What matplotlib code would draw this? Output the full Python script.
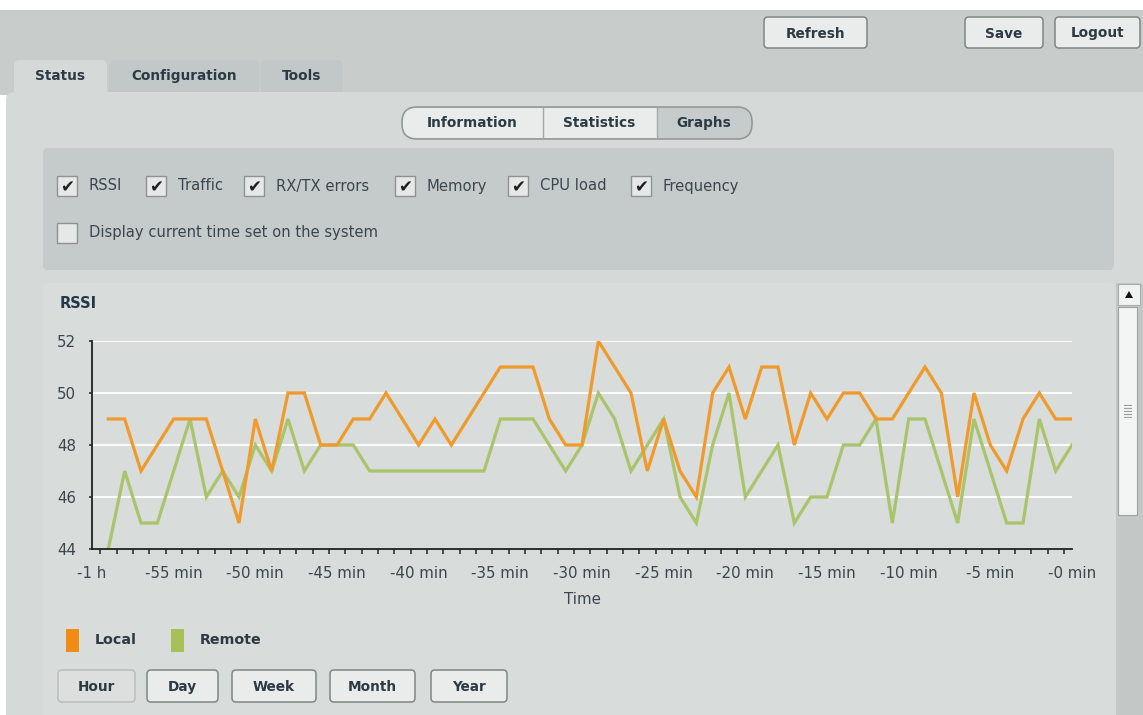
import matplotlib.pyplot as plt
from matplotlib.patches import FancyBboxPatch, Rectangle, Polygon

# RSSI samples, one per minute (-59 min .. 0 min)
minutes = list(range(-59, 1))
local_rssi = [49, 49, 47, 48, 49, 49, 49, 47, 45, 49,
              47, 50, 50, 48, 48, 49, 49, 50, 49, 48,
              49, 48, 49, 50, 51, 51, 51, 49, 48, 48,
              52, 51, 50, 47, 49, 47, 46, 50, 51, 49,
              51, 51, 48, 50, 49, 50, 50, 49, 49, 50,
              51, 50, 46, 50, 48, 47, 49, 50, 49, 49]
remote_rssi = [44, 47, 45, 45, 47, 49, 46, 47, 46, 48,
               47, 49, 47, 48, 48, 48, 47, 47, 47, 47,
               47, 47, 47, 47, 49, 49, 49, 48, 47, 48,
               50, 49, 47, 48, 49, 46, 45, 48, 50, 46,
               47, 48, 45, 46, 46, 48, 48, 49, 45, 49,
               49, 47, 45, 49, 47, 45, 45, 49, 47, 48]

x_major = [-60, -55, -50, -45, -40, -35, -30, -25, -20, -15, -10, -5, 0]
x_labels = ["-1 h", "-55 min", "-50 min", "-45 min", "-40 min", "-35 min",
            "-30 min", "-25 min", "-20 min", "-15 min", "-10 min", "-5 min", "-0 min"]
y_ticks = [44, 46, 48, 50, 52]

series_names = ["Local", "Remote"]
checkbox_labels = ["RSSI", "Traffic", "RX/TX errors", "Memory", "CPU load", "Frequency"]
range_buttons = ["Hour", "Day", "Week", "Month", "Year"]
sub_tabs = ["Information", "Statistics", "Graphs"]
main_tabs = ["Status", "Configuration", "Tools"]

TXT = "#2c3a44"
ORANGE = "#f09a2c"
GREEN = "#a9c46a"

W, H = 1143, 715
fig = plt.figure(figsize=(W / 100, H / 100), dpi=100)
fig.patch.set_facecolor("white")

# background layer in pixel coordinates
bg = fig.add_axes([0, 0, 1, 1])
bg.set_xlim(0, W)
bg.set_ylim(H, 0)
bg.axis("off")


def rbox(x0, y0, x1, y1, face, edge="none", r=4, lw=1.0, z=1):
    p = FancyBboxPatch((x0, y0), x1 - x0, y1 - y0,
                       boxstyle=f"round,pad=0,rounding_size={r}",
                       fc=face, ec=edge, lw=lw, zorder=z)
    bg.add_patch(p)


def button(x0, y0, x1, y1, label, face="#e9eceb", edge="#7f8686"):
    rbox(x0, y0, x1, y1, face, edge, r=4, lw=1.1, z=3)
    bg.text((x0 + x1) / 2, (y0 + y1) / 2 + 1, label, ha="center", va="center",
            fontsize=9.8, fontweight="bold", color=TXT, zorder=4)


def checkbox(x, y, checked):
    bg.add_patch(Rectangle((x, y - 10), 20, 20, fc="#e6e8e7", ec="#8d9393", lw=1.0, zorder=3))
    if checked:
        bg.text(x + 10, y + 1, "\u2714", ha="center", va="center",
                fontsize=12, color="#1b1f22", zorder=4)


# top strip and main panel
bg.add_patch(Rectangle((0, 10), W, 85, fc="#c8cdcb", ec="none", zorder=0))
rbox(6, 92, W + 20, H + 20, "#d5dad9", r=8, z=1)

# main tabs
tab_spans = [(14, 107), (109, 259), (261, 343)]
for (x0, x1), name in zip(tab_spans, main_tabs):
    face = "#d5dad9" if name == "Status" else "#c2c8c7"
    rbox(x0, 60, x1, 104, face, r=6, z=2 if name == "Status" else 0.5)
    bg.text((x0 + x1) / 2, 76, name, ha="center", va="center",
            fontsize=9.8, fontweight="bold", color=TXT, zorder=4)

# top buttons
button(764, 17, 867, 48, "Refresh")
button(965, 17, 1043, 48, "Save")
button(1055, 17, 1140, 48, "Logout")

# segmented control
rbox(402, 107, 752, 139, "#c6cccb", "#8e9595", r=15, lw=1.1, z=3)
rbox(403, 108, 560, 138, "#e9eceb", "none", r=14, z=3)
bg.add_patch(Rectangle((530, 108), 127, 30, fc="#e9eceb", ec="none", zorder=3))
bg.plot([543, 543], [108, 138], color="#a3a9a9", lw=1, zorder=4)
bg.plot([657, 657], [108, 138], color="#a3a9a9", lw=1, zorder=4)
for cx, name in zip([472, 599, 704], sub_tabs):
    bg.text(cx, 123, name, ha="center", va="center",
            fontsize=9.8, fontweight="bold", color=TXT, zorder=5)

# checkbox panel
rbox(43, 148, 1114, 270, "#c5cbca", r=5, z=2)
box_x = [57, 146, 244, 395, 508, 631]
for bx, name in zip(box_x, checkbox_labels):
    checkbox(bx, 186, True)
    bg.text(bx + 32, 186, name, ha="left", va="center", fontsize=10.6, color="#3a454d", zorder=4)
checkbox(57, 233, False)
bg.text(89, 233, "Display current time set on the system", ha="left", va="center",
        fontsize=10.6, color="#3a454d", zorder=4)

# graph panel
rbox(42, 283, 1116, H + 20, "#d8dcdb", r=5, z=2)
bg.text(60, 304, "RSSI", ha="left", va="center", fontsize=10.5,
        fontweight="bold", color="#22384a", zorder=4)

# scrollbar
bg.add_patch(Rectangle((1116, 283), 27, H - 283, fc="#c3c8c7", ec="none", zorder=2))
bg.add_patch(Rectangle((1118, 284), 22, 21, fc="#f1f2f2", ec="#a9aeae", lw=0.8, zorder=3))
bg.add_patch(Polygon([[1125, 298], [1133, 298], [1129, 291]], closed=True, fc="#111111", zorder=4))
bg.add_patch(Rectangle((1118, 307), 19, 208, fc="#f3f4f4", ec="#9ca1a1", lw=0.8, zorder=3))
for gy in range(405, 418, 3):
    bg.plot([1124, 1131], [gy, gy], color="#9aa0a0", lw=0.8, zorder=4)

# legend
bg.add_patch(Rectangle((66, 629), 13, 23, fc="#f08c12", ec="none", zorder=3))
bg.text(95, 640, series_names[0], ha="left", va="center", fontsize=10.3,
        fontweight="bold", color=TXT, zorder=4)
bg.add_patch(Rectangle((171, 629), 13, 23, fc="#a7c05a", ec="none", zorder=3))
bg.text(200, 640, series_names[1], ha="left", va="center", fontsize=10.3,
        fontweight="bold", color=TXT, zorder=4)

# range buttons
btn_spans = [(58, 135), (147, 218), (232, 316), (330, 415), (431, 507)]
for (x0, x1), name in zip(btn_spans, range_buttons):
    if name == "Hour":
        button(x0, 670, x1, 702, name, face="#dcdfde", edge="#b8bdbd")
    else:
        button(x0, 670, x1, 702, name)

# the chart itself
ax = fig.add_axes([92 / W, 1 - 549 / H, 980 / W, 208 / H])
ax.set_facecolor("none")
ax.set_zorder(5)
ax.set_xlim(-60, 0)
ax.set_ylim(44, 52)
for yv in y_ticks[1:]:
    ax.axhline(yv, color="white", lw=1.3, zorder=1)
ax.plot(minutes, remote_rssi, color=GREEN, lw=2.3, zorder=3, solid_joinstyle="miter")
ax.plot(minutes, local_rssi, color=ORANGE, lw=2.3, zorder=4, solid_joinstyle="miter")

for s in ["top", "right"]:
    ax.spines[s].set_visible(False)
for s in ["left", "bottom"]:
    ax.spines[s].set_color("#1e2226")
    ax.spines[s].set_linewidth(1.3)
ax.spines["bottom"].set_zorder(6)

ax.set_xticks(x_major)
ax.set_xticklabels(x_labels)
ax.set_xticks([m - 0.5 for m in minutes], minor=True)
ax.tick_params(axis="x", which="major", length=0, pad=12, labelsize=10.8, labelcolor="#3a454d")
ax.tick_params(axis="x", which="minor", length=3.5, width=1.1, color="#1e2226", direction="out")
ax.set_yticks(y_ticks)
ax.tick_params(axis="y", length=2.5, width=1.1, color="#1e2226", pad=9,
               labelsize=10.8, labelcolor="#3a454d")
ax.set_xlabel("Time", fontsize=10.8, color="#3a454d", labelpad=8)

fig.savefig("out.png", dpi=100)
